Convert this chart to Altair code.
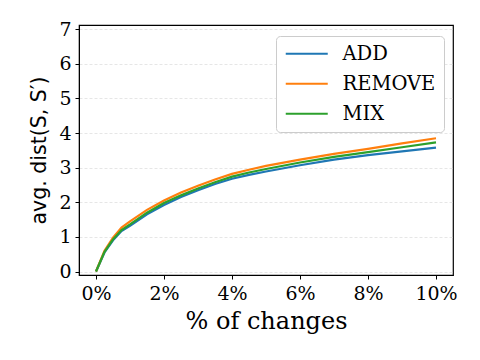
import altair as alt
import pandas as pd

pct = [0, 0.25, 0.5, 0.75, 1, 1.5, 2, 2.5, 3, 3.5, 4, 4.5, 5, 6, 7, 8, 9, 10]
add_vals = [0, 0.55, 0.90, 1.17, 1.32, 1.65, 1.92, 2.15, 2.35, 2.53, 2.68, 2.79, 2.89, 3.07, 3.23, 3.36, 3.47, 3.58]
remove_vals = [0, 0.60, 0.98, 1.27, 1.45, 1.78, 2.05, 2.28, 2.48, 2.66, 2.82, 2.94, 3.05, 3.23, 3.40, 3.54, 3.70, 3.85]
mix_vals = [0, 0.57, 0.93, 1.20, 1.36, 1.70, 1.98, 2.20, 2.40, 2.58, 2.74, 2.86, 2.96, 3.15, 3.31, 3.45, 3.59, 3.73]
series = ["ADD", "REMOVE", "MIX"]
colors = ["#1f77b4", "#ff7f0e", "#2ca02c"]
x_ticks = [0, 2, 4, 6, 8, 10]
y_ticks = [0, 1, 2, 3, 4, 5, 6, 7]

rows = []
for name, vals in zip(series, [add_vals, remove_vals, mix_vals]):
    for i, (x, y) in enumerate(zip(pct, vals)):
        rows.append({"pct": x, "val": y, "method": name, "ord": i})
df = pd.DataFrame(rows)

serif = "DejaVu Serif"

chart = alt.Chart(df).mark_line(strokeWidth=2.2).encode(
    x=alt.X("pct:Q",
            scale=alt.Scale(domain=[-0.5, 10.5], nice=False, zero=False),
            axis=alt.Axis(values=x_ticks, labelExpr="datum.value + '%'",
                          title="% of changes", grid=False,
                          labelFont=serif, labelFontSize=19, labelColor="black",
                          titleFont=serif, titleFontSize=24, titleFontWeight="normal",
                          titleColor="black", titlePadding=6,
                          tickColor="black", tickSize=4, tickWidth=1,
                          domainColor="black", labelPadding=5)),
    y=alt.Y("val:Q",
            scale=alt.Scale(domain=[-0.1, 7.12], nice=False, zero=False),
            axis=alt.Axis(values=y_ticks, title="avg. dist(S, S\u2032)",
                          grid=True, gridDash=[3, 2], gridColor="#e0e0e0", gridWidth=0.8,
                          labelFont=serif, labelFontSize=19, labelColor="black",
                          titleFont="DejaVu Sans", titleFontSize=20.5, titleFontWeight="normal",
                          titleColor="black", titlePadding=9,
                          tickColor="black", tickSize=4, tickWidth=1,
                          domainColor="black", labelPadding=4)),
    color=alt.Color("method:N",
                    scale=alt.Scale(domain=series, range=colors),
                    legend=alt.Legend(title=None, orient="none", legendX=197, legendY=11,
                                      symbolType="M-3,0H3", symbolSize=196,
                                      symbolStrokeWidth=2.2, symbolOffset=13,
                                      labelFont=serif, labelFontSize=19.5, labelColor="black",
                                      labelOffset=26, rowPadding=9, padding=8,
                                      strokeColor="#cccccc", fillColor="white",
                                      cornerRadius=4)),
    order=alt.Order("ord:Q"),
).properties(
    width=374, height=250,
    autosize=alt.AutoSizeParams(type="none"),
    padding={"left": 71, "top": 17, "right": 19, "bottom": 77},
).configure_view(stroke="black", strokeWidth=1.2
).configure_legend(labelFont=serif)

chart.save("out.html", embed_options={"renderer": "svg", "actions": False})
